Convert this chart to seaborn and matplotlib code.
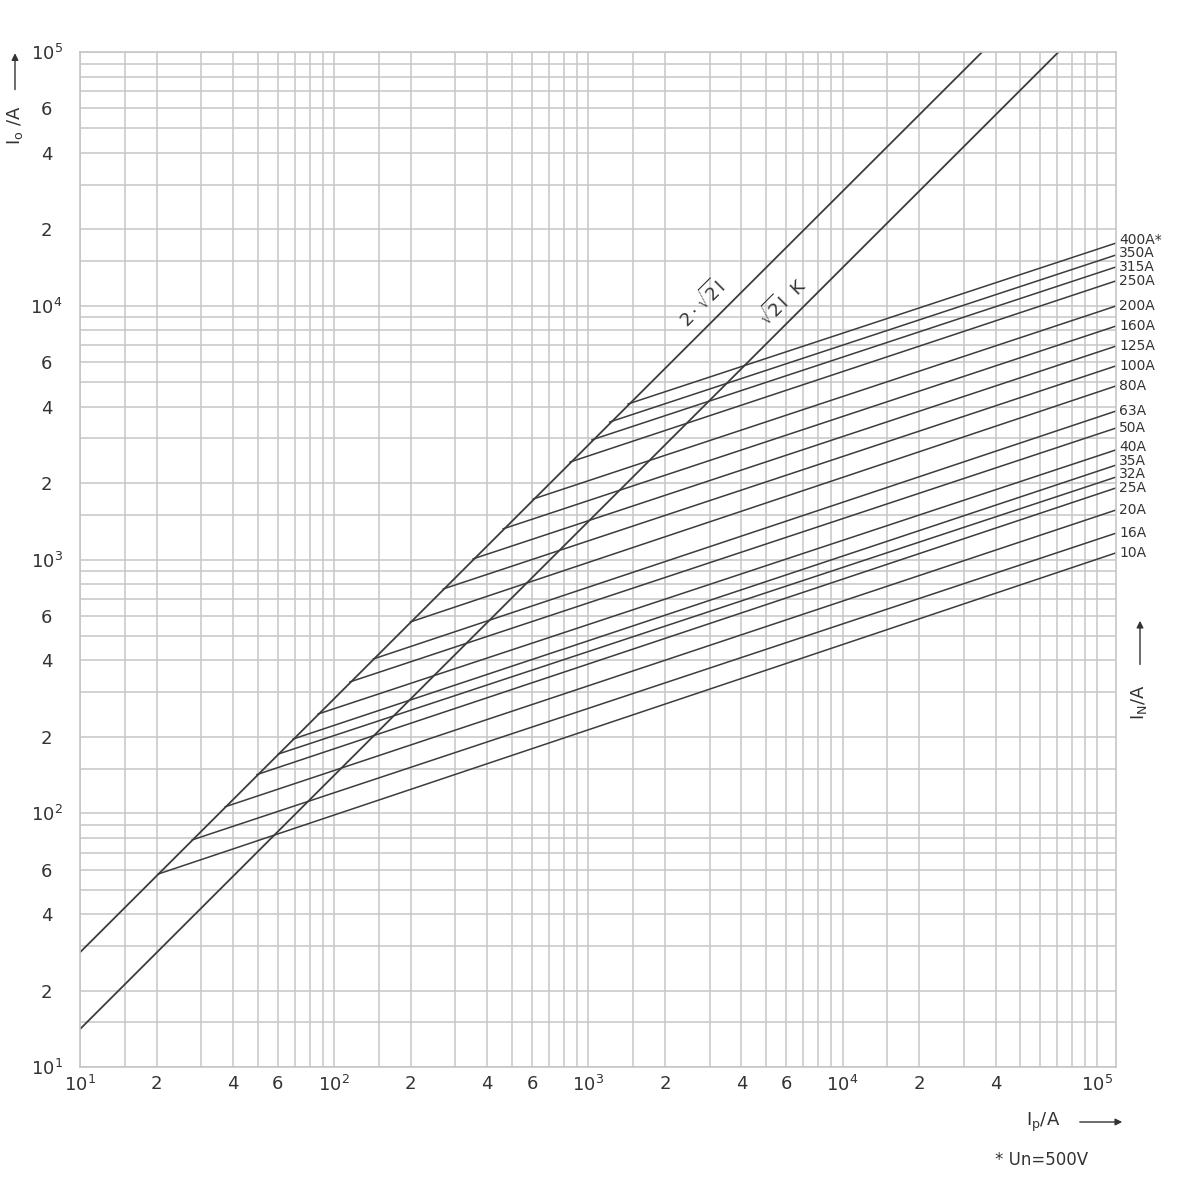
import numpy as np
import pandas as pd
import matplotlib
matplotlib.use("Agg")
import matplotlib.pyplot as plt
from matplotlib.ticker import NullFormatter
import seaborn as sns

# =========================
# DATA
# =========================
ratings = ["10A", "16A", "20A", "25A", "32A", "35A", "40A", "50A", "63A",
           "80A", "100A", "125A", "160A", "200A", "250A", "315A", "350A", "400A*"]
# start of each fuse line (on the 2*sqrt2*I line)
ip_start = [20.3, 27.6, 37.2, 49.6, 60.1, 68.8, 86.3, 115, 142,
            199, 268, 351, 461, 605, 845, 1030, 1210, 1430]
io_start = [57.6, 78.5, 106, 142, 171, 196, 246, 329, 405,
            567, 765, 1005, 1320, 1730, 2420, 2960, 3480, 4100]
# cut-off current where each line leaves the right edge
io_end = [1062, 1270, 1567, 1914, 2113, 2355, 2704, 3296, 3846,
          4830, 5794, 6934, 8318, 9977, 12530, 14220, 15850, 17660]
IP_END = 1.19e5

# the two prospective peak lines
peak_ip = [10, 35400]
peak_io = [28.3, 100000]
rms_ip = [10, 70700]
rms_io = [14.1, 100000]

x_ticks = [10, 20, 40, 60, 100, 200, 400, 600, 1e3, 2e3, 4e3, 6e3,
           1e4, 2e4, 4e4, 1e5]
x_labels = ["$10^{1}$", "2", "4", "6", "$10^{2}$", "2", "4", "6", "$10^{3}$",
            "2", "4", "6", "$10^{4}$", "2", "4", "$10^{5}$"]
y_ticks = [10, 20, 40, 60, 100, 200, 400, 600, 1e3, 2e3, 4e3, 6e3,
           1e4, 2e4, 4e4, 6e4, 1e5]
y_labels = ["$10^{1}$", "2", "4", "6", "$10^{2}$", "2", "4", "6", "$10^{3}$",
            "2", "4", "6", "$10^{4}$", "2", "4", "6", "$10^{5}$"]
grid_mult = [1, 1.5, 2, 3, 4, 5, 6, 7, 8, 9]

# =========================
# STYLE
# =========================
sns.set_style("white")
plt.rcParams["font.family"] = ["DejaVu Sans"]
plt.rcParams["mathtext.fontset"] = "dejavusans"

LINE_C = "#3c3c3c"
GRID_C = "#c6c6c6"
TXT_C = "#333333"

fig = plt.figure(figsize=(12, 12), dpi=100)
ax = fig.add_axes([80 / 1200, 1 - 1067 / 1200, 1036 / 1200, 1015 / 1200])

# fuse lines as long frame
rows = []
for name, x0, y0, y1 in zip(ratings, ip_start, io_start, io_end):
    rows.append((name, x0, y0))
    rows.append((name, IP_END, y1))
df = pd.DataFrame(rows, columns=["curve", "ip", "io"])

sns.lineplot(data=df, x="ip", y="io", units="curve", estimator=None,
             sort=False, color=LINE_C, linewidth=1.1, ax=ax, legend=False)
sns.lineplot(x=peak_ip, y=peak_io, color=LINE_C, linewidth=1.3, ax=ax)
sns.lineplot(x=rms_ip, y=rms_io, color=LINE_C, linewidth=1.3, ax=ax)

ax.set_xscale("log")
ax.set_yscale("log")
ax.set_xlim(10, IP_END)
ax.set_ylim(10, 1e5)

# grid at 1, 1.5, 2 .. 9 per decade
gx = [m * 10.0 ** e for e in range(1, 6) for m in grid_mult if m * 10.0 ** e <= IP_END]
gy = [m * 10.0 ** e for e in range(1, 6) for m in grid_mult if m * 10.0 ** e <= 1e5]
ax.set_xticks(gx, minor=True)
ax.set_yticks(gy, minor=True)
ax.xaxis.set_minor_formatter(NullFormatter())
ax.yaxis.set_minor_formatter(NullFormatter())
ax.set_xticks(x_ticks, x_labels, fontsize=13, color=TXT_C)
ax.set_yticks(y_ticks, y_labels, fontsize=13, color=TXT_C, ha="center")
ax.tick_params(which="both", length=0)
ax.tick_params(axis="y", pad=24)
ax.tick_params(axis="x", pad=6)
ax.grid(which="both", color=GRID_C, linewidth=1.1)
ax.set_axisbelow(True)
for sp in ax.spines.values():
    sp.set_color(GRID_C)
    sp.set_linewidth(1.2)
ax.set_xlabel("")
ax.set_ylabel("")

# rating labels on the right, nudged apart where they crowd
ypix = [ax.transData.transform((IP_END, v))[1] for v in io_end]
order = np.argsort(ypix)
placed = list(ypix)
MIN_GAP = 13.5
for k in range(1, len(order)):
    i, j = order[k], order[k - 1]
    if placed[i] - placed[j] < MIN_GAP:
        placed[i] = placed[j] + MIN_GAP
inv = ax.transAxes.inverted()
for name, yp in zip(ratings, placed):
    yfrac = inv.transform((0, yp))[1]
    ax.text(1.003, yfrac, name, transform=ax.transAxes, va="center",
            ha="left", fontsize=10, color=TXT_C)

# labels on the diagonal lines
ax.text(0.600, 0.753, r"$2\cdot\sqrt{2}\mathrm{I}$", transform=ax.transAxes,
        rotation=45, ha="center", va="center", fontsize=13, color=TXT_C)
ax.text(0.678, 0.754, r"$\sqrt{2}\mathrm{I}\ \ \mathrm{K}$", transform=ax.transAxes,
        rotation=45, ha="center", va="center", fontsize=13, color=TXT_C)

# axis captions with arrows
arrow = dict(arrowstyle="-|>", color=TXT_C, lw=1.0, mutation_scale=10)
fig.text(0.0125, 0.896, r"I$_\mathrm{o}$ /A", rotation=90,
         ha="center", va="center", fontsize=13, color=TXT_C)
fig.add_artist(plt.Annotation("", xy=(0.0125, 0.958), xytext=(0.0125, 0.923),
                              xycoords="figure fraction", arrowprops=arrow))

fig.text(0.869, 0.065, r"I$_\mathrm{p}$/A", ha="center", va="center",
         fontsize=13, color=TXT_C)
fig.add_artist(plt.Annotation("", xy=(0.9375, 0.065), xytext=(0.8975, 0.065),
                              xycoords="figure fraction", arrowprops=arrow))
fig.text(0.868, 0.033, "* Un=500V", ha="center", va="center",
         fontsize=12, color=TXT_C)

fig.text(0.949, 0.415, r"I$_\mathrm{N}$/A", rotation=90, ha="center",
         va="center", fontsize=13, color=TXT_C)
fig.add_artist(plt.Annotation("", xy=(0.95, 0.485), xytext=(0.95, 0.444),
                              xycoords="figure fraction", arrowprops=arrow))

fig.savefig("out.png", dpi=100)
